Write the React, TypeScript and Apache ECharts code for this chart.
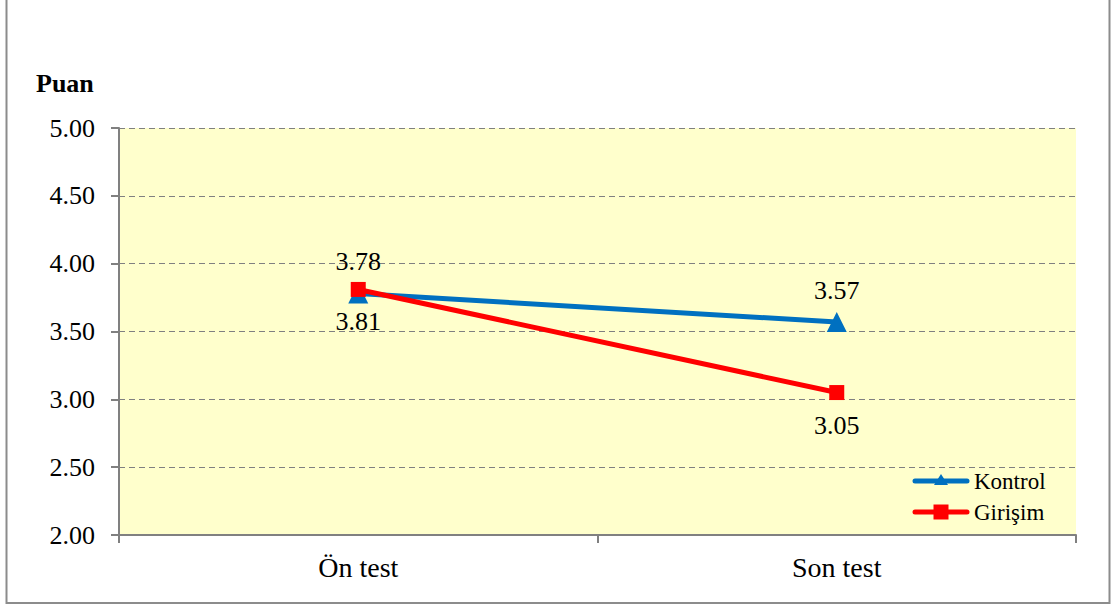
import React, { useEffect, useRef } from "react";
import * as echarts from "echarts";

const categories = ["Ön test", "Son test"];
const kontrol = [3.78, 3.57];
const girisim = [3.81, 3.05];
const seriesNames = ["Kontrol", "Girişim"];
const yTitle = "Puan";

export default function App() {
  const ref = useRef<HTMLDivElement>(null);
  useEffect(() => {
    const chart = echarts.init(ref.current!, null, { renderer: "svg" });
    const font = "Liberation Serif";
    const blue = "#0070C0";
    const red = "#FF0000";
    const lx = 913;
    const lw = 56;
    const ly1 = 481;
    const ly2 = 512;
    chart.setOption({
      animation: false,
      textStyle: { fontFamily: font },
      graphic: [
        {
          type: "rect",
          shape: { x: 6.5, y: -10, width: 1103, height: 613 },
          style: { fill: "none", stroke: "#8c8c8c", lineWidth: 2 },
          z: 0,
        },
        {
          type: "text",
          left: 36,
          top: 70,
          style: { text: yTitle, fontFamily: font, fontWeight: "bold", fontSize: 26, fill: "#000" },
        },
        {
          type: "line",
          shape: { x1: lx + 2, y1: ly1, x2: lx + lw - 2, y2: ly1 },
          style: { stroke: blue, lineWidth: 5, lineCap: "round" },
          z: 10,
        },
        {
          type: "polygon",
          shape: { points: [[lx + lw / 2, ly1 - 7], [lx + lw / 2 - 7, ly1 + 4], [lx + lw / 2 + 7, ly1 + 4]] },
          style: { fill: blue },
          z: 11,
        },
        {
          type: "text",
          x: lx + lw + 5,
          y: ly1,
          style: { text: seriesNames[0], fontFamily: font, fontSize: 23, fill: "#000", verticalAlign: "middle" },
          z: 11,
        },
        {
          type: "line",
          shape: { x1: lx + 2, y1: ly2, x2: lx + lw - 2, y2: ly2 },
          style: { stroke: red, lineWidth: 5, lineCap: "round" },
          z: 10,
        },
        {
          type: "rect",
          shape: { x: lx + lw / 2 - 7.5, y: ly2 - 7.5, width: 15, height: 15 },
          style: { fill: red },
          z: 11,
        },
        {
          type: "text",
          x: lx + lw + 5,
          y: ly2,
          style: { text: seriesNames[1], fontFamily: font, fontSize: 23, fill: "#000", verticalAlign: "middle" },
          z: 11,
        },
      ],
      grid: { left: 119, right: 39, top: 128, bottom: 73, show: true, backgroundColor: "#FFFFCC", borderWidth: 0 },
      xAxis: {
        type: "category",
        data: categories,
        boundaryGap: true,
        axisLine: { lineStyle: { color: "#808080", width: 2 } },
        axisTick: { show: true, length: 8, lineStyle: { color: "#808080", width: 2 } },
        axisLabel: { color: "#000", fontSize: 28, fontFamily: font, margin: 18 },
      },
      yAxis: {
        type: "value",
        min: 2,
        max: 5,
        interval: 0.5,
        axisLine: { show: true, lineStyle: { color: "#808080", width: 2 } },
        axisTick: { show: true, length: 8, lineStyle: { color: "#808080", width: 2 } },
        axisLabel: { color: "#000", fontSize: 26, fontFamily: font, margin: 24, formatter: (v: number) => v.toFixed(2) },
        splitLine: { show: true, lineStyle: { color: "#808080", type: [6, 4], width: 1 } },
      },
      series: [
        {
          name: seriesNames[0],
          type: "line",
          data: kontrol,
          symbol: "triangle",
          symbolSize: 20,
          lineStyle: { color: blue, width: 5 },
          itemStyle: { color: blue },
          label: { show: true, position: "top", distance: 9, fontSize: 26, color: "#000", fontFamily: font, formatter: (p: any) => p.value.toFixed(2) },
          z: 2,
        },
        {
          name: seriesNames[1],
          type: "line",
          data: girisim,
          symbol: "rect",
          symbolSize: 15,
          lineStyle: { color: red, width: 5 },
          itemStyle: { color: red },
          label: { show: true, position: "bottom", distance: 12, fontSize: 26, color: "#000", fontFamily: font, formatter: (p: any) => p.value.toFixed(2) },
          z: 3,
        },
      ],
    });
    return () => chart.dispose();
  }, []);
  return <div ref={ref} style={{ position: "absolute", left: 0, top: 0, width: 1115, height: 608 }} />;
}
